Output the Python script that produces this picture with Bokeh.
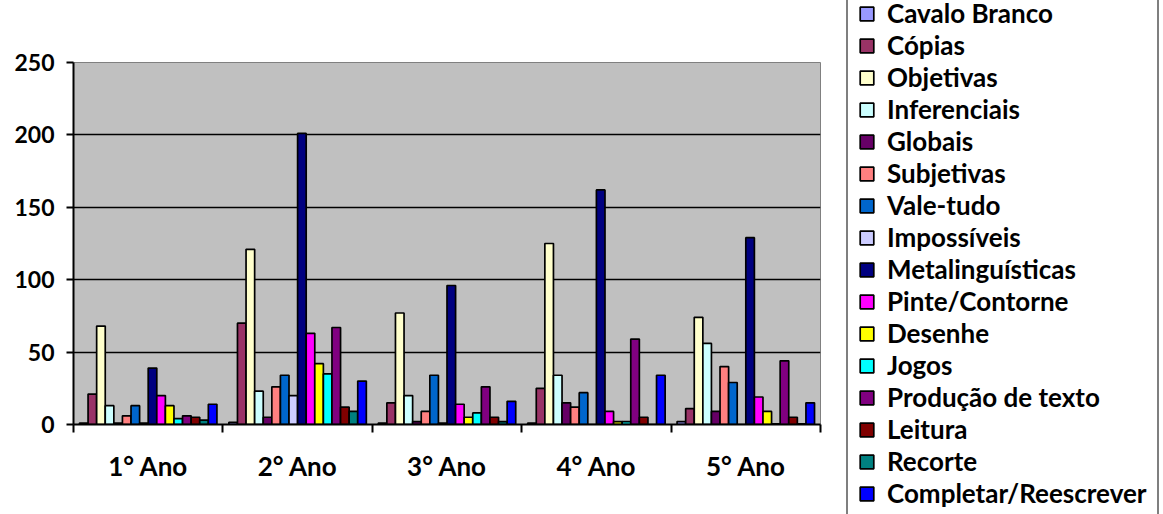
from bokeh.plotting import figure
from bokeh.models import (ColumnDataSource, Range1d, LinearAxis,
                          FixedTicker, SingleIntervalTicker, Legend)
from bokeh.transform import dodge
from bokeh.embed import file_html
from bokeh.resources import INLINE

categories = ["1° Ano", "2° Ano", "3° Ano", "4° Ano", "5° Ano"]

cavalo_branco = [1, 1.5, 1, 1, 2]
copias = [21, 70, 15, 25, 11]
objetivas = [68, 121, 77, 125, 74]
inferenciais = [13, 23, 20, 34, 56]
globais = [1, 5, 2, 15, 9]
subjetivas = [6, 26, 9, 12, 40]
vale_tudo = [13, 34, 34, 22, 29]
impossiveis = [1, 20, 1, 0, 0]
metalinguisticas = [39, 201, 96, 162, 129]
pinte_contorne = [20, 63, 14, 9, 19]
desenhe = [13, 42, 5, 2, 9]
jogos = [4, 35, 8, 2, 0.5]
producao_texto = [6, 67, 26, 59, 44]
leitura = [5, 12, 5, 5, 5]
recorte = [3, 9, 2, 0, 0.5]
completar = [14, 30, 16, 34, 15]

series_names = ["Cavalo Branco", "Cópias", "Objetivas", "Inferenciais", "Globais", "Subjetivas",
                "Vale-tudo", "Impossíveis", "Metalinguísticas", "Pinte/Contorne", "Desenhe",
                "Jogos", "Produção de texto", "Leitura", "Recorte", "Completar/Reescrever"]
series_values = [cavalo_branco, copias, objetivas, inferenciais, globais, subjetivas, vale_tudo,
                 impossiveis, metalinguisticas, pinte_contorne, desenhe, jogos, producao_texto,
                 leitura, recorte, completar]
colors = ["#9999FF", "#993366", "#FFFFCC", "#CCFFFF", "#660066", "#FF8080", "#0066CC", "#CCCCFF",
          "#000080", "#FF00FF", "#FFFF00", "#00FFFF", "#800080", "#800000", "#008080", "#0000FF"]

FONT = "Lato"

centers = [i + 0.5 for i in range(len(categories))]
data = {"pos": centers}
for i, vals in enumerate(series_values):
    data[f"s{i}"] = vals
source = ColumnDataSource(data)

p = figure(frame_width=747, frame_height=362, output_backend="svg", toolbar_location=None,
           x_range=Range1d(0, len(categories)), y_range=Range1d(0, 250),
           x_axis_location=None, min_border_left=73, min_border_right=343,
           min_border_top=62, min_border_bottom=90)
p.background_fill_color = "#C0C0C0"
p.border_fill_color = "white"
p.outline_line_color = "#808080"
p.outline_line_width = 1

n = len(series_names)
bw = 0.0575
items = []
for i in range(n):
    off = (i - (n - 1) / 2) * bw
    r = p.vbar(x=dodge("pos", off), top=f"s{i}", width=bw, source=source,
               fill_color=colors[i], line_color="black", line_width=1.7)
    items.append((series_names[i], [r]))

# y axis
yax = p.yaxis[0]
yax.ticker = SingleIntervalTicker(interval=50)
yax.axis_line_width = 2
yax.axis_line_color = "black"
yax.major_tick_line_width = 2
yax.major_tick_out = 7
yax.major_tick_in = 0
yax.minor_tick_line_color = None
yax.major_label_text_font = FONT
yax.major_label_text_font_style = "bold"
yax.major_label_text_font_size = "23px"
yax.major_label_text_color = "black"
yax.major_label_standoff = 12

p.ygrid.grid_line_color = "black"
p.ygrid.grid_line_width = 1.5
p.xgrid.grid_line_color = None

# x axis: boundary ticks + category labels
bounds = list(range(len(categories) + 1))
bax = LinearAxis(ticker=FixedTicker(ticks=bounds),
                 major_label_overrides={b: "" for b in bounds},
                 major_label_text_font_size="1px", major_label_standoff=0,
                 major_tick_out=8, major_tick_in=0, major_tick_line_width=2,
                 minor_tick_line_color=None, axis_line_width=2, axis_line_color="black")
p.add_layout(bax, "below")
cax = LinearAxis(ticker=FixedTicker(ticks=centers),
                 major_label_overrides={c: lab for c, lab in zip(centers, categories)},
                 major_tick_line_color=None, minor_tick_line_color=None, axis_line_color=None,
                 major_label_text_font=FONT, major_label_text_font_style="bold",
                 major_label_text_font_size="26px", major_label_text_color="black",
                 major_label_standoff=11)
p.add_layout(cax, "below")

legend = Legend(items=items, location=(26, -97), orientation="vertical", ncols=1,
                label_text_font=FONT, label_text_font_style="bold", label_text_font_size="26px",
                label_text_color="black", label_height=20, glyph_height=17, glyph_width=17,
                spacing=0, padding=10, label_standoff=12, margin=0,
                border_line_color="black", border_line_width=2,
                background_fill_color="white", background_fill_alpha=1)
p.add_layout(legend, "right")

open("out.html", "w").write(file_html(p, INLINE))
